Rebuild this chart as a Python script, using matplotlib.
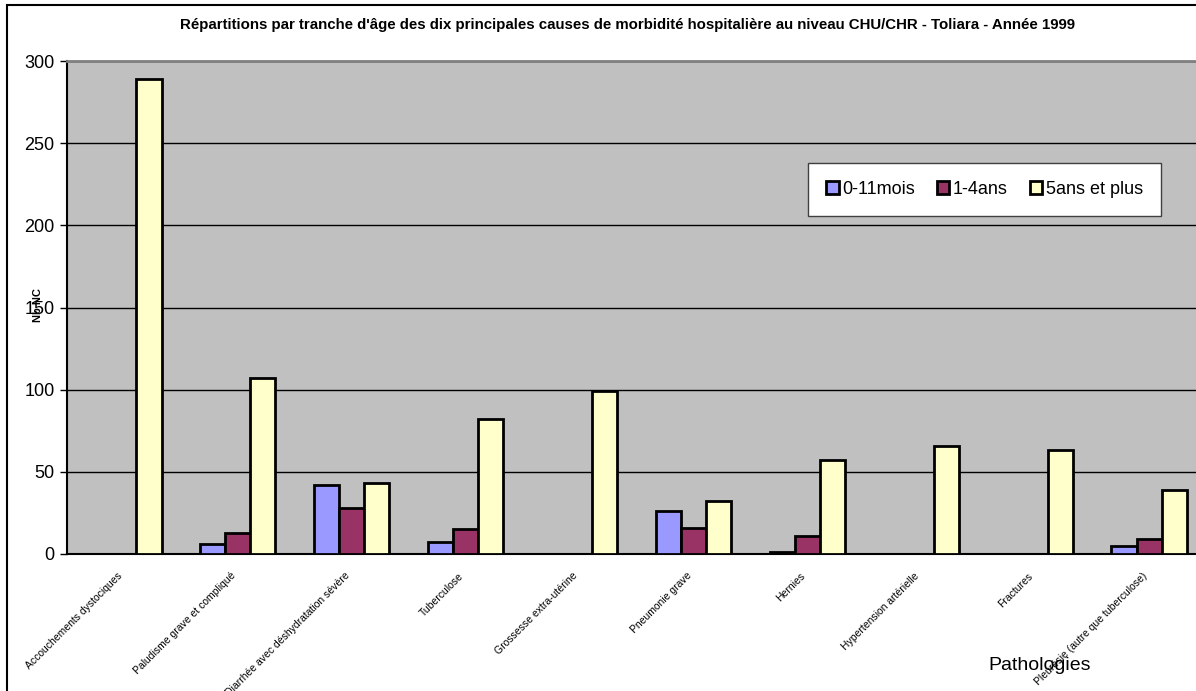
import numpy as np
import matplotlib.pyplot as plt
from matplotlib.patches import Rectangle

plt.rcParams['font.family'] = ['Liberation Sans', 'DejaVu Sans']

# data
pathologies = ['Accouchements dystociques', 'Paludisme grave et compliqué',
               'Diarrhée avec déshydratation sévère', 'Tuberculose',
               'Grossesse extra-utérine', 'Pneumonie grave', 'Hernies',
               'Hypertension artérielle', 'Fractures',
               'Pleurésie (autre que tuberculose)']
mois_0_11 = [0, 6, 42, 7, 0, 26, 1, 0, 0, 5]
ans_1_4 = [0, 13, 28, 15, 0, 16, 11, 0, 0, 9]
ans_5_plus = [289, 107, 43, 82, 99, 32, 57, 66, 63, 39]
series_labels = ['0-11mois', '1-4ans', '5ans et plus']
colors = ['#9999FF', '#993366', '#FFFFCC']

W, H = 1196, 691
fig = plt.figure(figsize=(W / 100, H / 100), dpi=100)
ax = fig.add_axes([67 / W, 1 - 554 / H, 1139 / W, 493 / H])
ax.set_facecolor('#C0C0C0')

index = np.arange(len(pathologies))
bar_width = 0.22
for k, vals in enumerate([mois_0_11, ans_1_4, ans_5_plus]):
    ax.bar(index + (k - 1) * bar_width, vals, bar_width, color=colors[k],
           edgecolor='black', linewidth=2, label=series_labels[k], zorder=3)

ax.set_xlim(-0.5, len(pathologies) - 0.5)
ax.set_ylim(0, 300)
ax.set_yticks(range(0, 301, 50))
ax.yaxis.grid(True, color='black', linewidth=1, zorder=1)
ax.set_axisbelow(True)
ax.tick_params(axis='y', labelsize=13, length=5, width=1, pad=4)
ax.set_xticks(index)
ax.set_xticklabels(pathologies, rotation=45, ha='right', va='top',
                   rotation_mode='default', fontsize=7.5)
ax.tick_params(axis='x', length=0, pad=12)
ax.spines['top'].set_color('#808080')
ax.spines['top'].set_linewidth(2)
ax.spines['right'].set_visible(False)
ax.spines['left'].set_linewidth(1.5)
ax.spines['bottom'].set_linewidth(1.5)

fig.text(628 / W, 1 - 25 / H,
         "Répartitions par tranche d'âge des dix principales causes de morbidité hospitalière au niveau CHU/CHR - Toliara - Année 1999",
         ha='center', va='center', fontsize=10.8, fontweight='bold')
fig.text(38 / W, 1 - 305 / H, 'Nb NC', rotation=90, ha='center', va='center',
         fontsize=8, fontweight='bold')
fig.text(1040 / W, 1 - 665 / H, 'Pathologies', ha='center', va='center',
         fontsize=14)

leg = ax.legend(loc='upper left', bbox_to_anchor=(808 / W, 1 - 163 / H),
                bbox_transform=fig.transFigure, ncol=3, fontsize=13,
                frameon=True, fancybox=False, handlelength=0.7,
                handleheight=0.7, handletextpad=0.2, columnspacing=1.2,
                borderpad=1.0, borderaxespad=0, framealpha=1)
leg.get_frame().set_facecolor('white')
leg.get_frame().set_edgecolor('#404040')
leg.get_frame().set_linewidth(1)

fig.patches.append(Rectangle((7 / W, -0.1), 1.2, 1 - 5 / H + 0.1,
                             transform=fig.transFigure, fill=False,
                             edgecolor='black', linewidth=1.5))

fig.savefig('out.png', dpi=100)
